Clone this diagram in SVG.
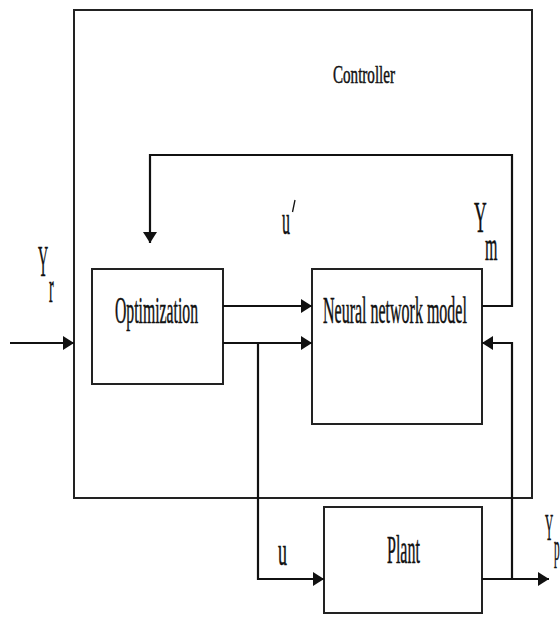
<svg xmlns="http://www.w3.org/2000/svg" width="560" height="617" viewBox="0 0 560 617">
<style>
.box{fill:none;stroke:#222;stroke-width:2}
.ln{fill:none;stroke:#111;stroke-width:2.2}
.t{font-family:"Liberation Serif","Times New Roman",serif;fill:#111;stroke:#111;stroke-width:0.5}
</style>
<defs>
<marker id="ah" markerWidth="12" markerHeight="14" refX="11" refY="7" orient="auto" markerUnits="userSpaceOnUse">
<path d="M0,0 L11,7 L0,14 Z" fill="#111"/>
</marker>
</defs>
<rect width="560" height="617" fill="#fff"/>
<g id="controller">
<rect class="box" x="74" y="10" width="458" height="488"/>
<text class="t" transform="translate(333,83) scale(0.58,1)" font-size="26">Controller</text>
</g>
<g id="optimization">
<rect class="box" x="92" y="269" width="131" height="115"/>
<text class="t" transform="translate(115,323) scale(0.414,1)" font-size="38">Optimization</text>
</g>
<g id="nn">
<rect class="box" x="312" y="269" width="170" height="155"/>
<text class="t" transform="translate(323,323) scale(0.421,1)" font-size="38">Neural network model</text>
</g>
<g id="plant">
<rect class="box" x="324" y="507" width="158" height="106"/>
<text class="t" transform="translate(387,563) scale(0.4,1)" font-size="40">Plant</text>
</g>
<g id="connectors">
<line class="ln" x1="10" y1="343" x2="74" y2="343" marker-end="url(#ah)"/>
<line class="ln" x1="223" y1="306" x2="312" y2="306" marker-end="url(#ah)"/>
<line class="ln" x1="223" y1="343" x2="312" y2="343" marker-end="url(#ah)"/>
<polyline class="ln" points="258,343 258,579 324,579" marker-end="url(#ah)"/>
<polyline class="ln" points="482,306 512,306 512,155 150,155 150,243" marker-end="url(#ah)"/>
<line class="ln" x1="482" y1="579" x2="549" y2="579" marker-end="url(#ah)"/>
<polyline class="ln" points="512,579 512,343 482,343" marker-end="url(#ah)"/>
</g>
<g id="labels">
<text class="t" transform="translate(38,276) scale(0.32,1)" font-size="44">Y<tspan x="34.4" y="26">r</tspan></text>
<text class="t" transform="translate(282,234) scale(0.4,1)" font-size="40">u</text>
<line x1="295" y1="200" x2="292.5" y2="212" stroke="#111" stroke-width="1.3"/>
<text class="t" transform="translate(474,232) scale(0.4,1)" font-size="44">Y<tspan x="27.5" y="28" font-size="40">m</tspan></text>
<text class="t" transform="translate(278,565) scale(0.45,1)" font-size="40">u</text>
<text class="t" transform="translate(545,540) scale(0.3,1)" font-size="38">Y<tspan x="30" y="20">p</tspan></text>
</g>
</svg>
